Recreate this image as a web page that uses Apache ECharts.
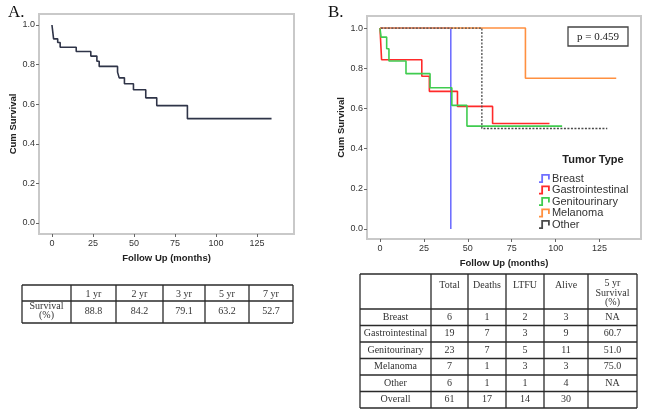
<!DOCTYPE html>
<html><head><meta charset="utf-8">
<script src="https://cdn.jsdelivr.net/npm/echarts@6/dist/echarts.min.js"></script>
<style>html,body{margin:0;padding:0;background:#fff}#c{width:649px;height:418px}</style>
</head><body><div id="c"></div>
<script>
// ---- tick values ----
const xTicks = [0, 25, 50, 75, 100, 125];
const yTicks = [0, 0.2, 0.4, 0.6, 0.8, 1.0];

// ---- Panel A: overall Kaplan-Meier ----
const allTime = [0, 0.5, 1, 3.5, 5, 14.8, 23.7, 27.4, 28.8, 40, 41, 44.2, 49.7, 57.2, 63.9, 82.6, 133.9];
const allSurv = [1, 0.965, 0.93, 0.912, 0.888, 0.866, 0.843, 0.817, 0.791, 0.762, 0.733, 0.703, 0.673, 0.632, 0.593, 0.527, 0.527];

// ---- Panel B: by tumor type ----
const tumorTypes = ['Breast', 'Gastrointestinal', 'Genitourinary', 'Melanoma', 'Other'];
const breastTime = [0, 40.3];
const breastSurv = [1, 0];
const giTime = [0, 0.3, 0.6, 0.9, 23.8, 28.1, 44.1, 64.1, 96.5];
const giSurv = [1, 0.947, 0.895, 0.842, 0.76, 0.685, 0.61, 0.525, 0.525];
const guTime = [0, 0.6, 3.8, 5.1, 14.8, 28.5, 40.9, 49.5, 103.7];
const guSurv = [1, 0.955, 0.897, 0.836, 0.773, 0.703, 0.615, 0.512, 0.512];
const melTime = [0, 82.8, 134.5];
const melSurv = [1, 0.75, 0.75];
const otherTime = [0.5, 58, 129.4];
const otherSurv = [1, 0.5, 0.5];
const pValueText = 'p = 0.459';

// ---- Table A ----
const tableAYears = ['1 yr', '2 yr', '3 yr', '5 yr', '7 yr'];
const tableASurvival = [88.8, 84.2, 79.1, 63.2, 52.7];

// ---- Table B ----
const tableBHeaders = ['Total', 'Deaths', 'LTFU', 'Alive', '5 yr\nSurvival\n(%)'];
const tableBRows = ['Breast', 'Gastrointestinal', 'Genitourinary', 'Melanoma', 'Other', 'Overall'];
const tableBTotal = [6, 19, 23, 7, 6, 61];
const tableBDeaths = [1, 7, 7, 1, 1, 17];
const tableBLTFU = [2, 3, 5, 3, 1, 14];
const tableBAlive = [3, 9, 11, 3, 4, 30];
const tableBFiveYr = ['NA', '60.7', '51.0', '75.0', 'NA', ''];

const colors = ['#6f6fff', '#ff2a2a', '#3fcc4f', '#ff9040', '#4a4a4a'];
const pairs = (t, s) => t.map((v, i) => [v, s[i]]);

const chart = echarts.init(document.getElementById('c'), null, {renderer: 'canvas'});

const sans = 'Liberation Sans';
const serif = 'Liberation Serif';
const frameColor = '#c9c9c9';

function makeX(idx, min, max) {
  return {
    type: 'value', gridIndex: idx, min: min, max: max, position: 'bottom',
    name: 'Follow Up (months)', nameLocation: 'middle', nameGap: 19,
    nameTextStyle: {fontFamily: sans, fontWeight: 'bold', fontSize: 9.5, color: '#222'},
    axisLine: {show: false, onZero: false},
    axisTick: {show: true, length: 3, customValues: xTicks, lineStyle: {color: '#666', width: 1}},
    axisLabel: {customValues: xTicks, fontFamily: sans, fontSize: 9, color: '#333', margin: 5},
    splitLine: {show: false}
  };
}
function makeY(idx, min, max) {
  return {
    type: 'value', gridIndex: idx, min: min, max: max, position: 'left',
    name: 'Cum Survival', nameLocation: 'middle', nameGap: 18,
    nameTextStyle: {fontFamily: sans, fontWeight: 'bold', fontSize: 9.5, color: '#222'},
    axisLine: {show: false, onZero: false},
    axisTick: {show: true, length: 3, customValues: yTicks, lineStyle: {color: '#666', width: 1}},
    axisLabel: {customValues: yTicks, fontFamily: sans, fontSize: 9, color: '#333', margin: 4,
      formatter: v => v.toFixed(1)},
    splitLine: {show: false}
  };
}

function kmSeries(name, t, s, color, gi, extra) {
  return Object.assign({
    name: name, type: 'line', step: 'end', xAxisIndex: gi, yAxisIndex: gi,
    data: pairs(t, s), showSymbol: false, symbol: 'none',
    lineStyle: {color: color, width: 1.6}, itemStyle: {color: color},
    silent: true, animation: false
  }, extra || {});
}

// ---- tables as graphics ----
function buildTable(colX, rowY, cells, lw) {
  const g = [];
  rowY.forEach(y => g.push({type: 'line', shape: {x1: colX[0], y1: y, x2: colX[colX.length - 1], y2: y},
    style: {stroke: '#2a2a2a', lineWidth: lw}}));
  colX.forEach(x => g.push({type: 'line', shape: {x1: x, y1: rowY[0], x2: x, y2: rowY[rowY.length - 1]},
    style: {stroke: '#2a2a2a', lineWidth: lw}}));
  cells.forEach(c => g.push({type: 'text', x: c.x, y: c.y,
    style: {text: c.text, fill: '#333', font: '10px "' + serif + '"', align: 'center',
      verticalAlign: 'middle', lineHeight: c.lh || 11}}));
  return g;
}

const tAcols = [22, 71, 116, 163, 205, 249, 293];
const tArows = [285, 301, 323];
const tAcells = [];
tableAYears.forEach((h, i) => tAcells.push({x: (tAcols[i + 1] + tAcols[i + 2]) / 2, y: 294, text: h}));
tAcells.push({x: (tAcols[0] + tAcols[1]) / 2, y: 311, text: 'Survival\n(%)', lh: 9.5});
tableASurvival.forEach((v, i) => tAcells.push({x: (tAcols[i + 1] + tAcols[i + 2]) / 2, y: 311, text: v.toFixed(1)}));

const tBcols = [360, 431, 468, 506, 544, 588, 637];
const tBrows = [274, 309];
for (let i = 1; i <= tableBRows.length; i++) tBrows.push(309 + 16.5 * i);
const tBcells = [];
tableBHeaders.forEach((h, i) => {
  const multi = h.indexOf('\n') >= 0;
  tBcells.push({x: (tBcols[i + 1] + tBcols[i + 2]) / 2, y: multi ? 293 : 285, text: h, lh: 9.3});
});
const colsB = [tableBTotal, tableBDeaths, tableBLTFU, tableBAlive, tableBFiveYr];
tableBRows.forEach((r, j) => {
  const cy = (tBrows[j + 1] + tBrows[j + 2]) / 2;
  tBcells.push({x: (tBcols[0] + tBcols[1]) / 2, y: cy, text: r});
  colsB.forEach((col, i) => tBcells.push({x: (tBcols[i + 1] + tBcols[i + 2]) / 2, y: cy, text: String(col[j])}));
});

const graphics = [
  {type: 'text', x: 8, y: 4, style: {text: 'A.', font: '17px "' + serif + '"', fill: '#111'}},
  {type: 'text', x: 328, y: 4, style: {text: 'B.', font: '17px "' + serif + '"', fill: '#111'}},
  {type: 'rect', shape: {x: 568, y: 27, width: 60, height: 19},
    style: {fill: '#fff', stroke: '#444', lineWidth: 1.3}},
  {type: 'text', x: 598, y: 37, style: {text: pValueText, font: '11px "' + serif + '"', fill: '#222',
    align: 'center', verticalAlign: 'middle'}},
  {type: 'text', x: 593, y: 160, style: {text: 'Tumor Type', font: 'bold 11px "' + sans + '"', fill: '#222',
    align: 'center', verticalAlign: 'middle'}}
].concat(buildTable(tAcols, tArows, tAcells, 1.3)).concat(buildTable(tBcols, tBrows, tBcells, 1.3));

const stepIcon = 'path://M0,8 L2.5,8 L2.5,0 L12,0 L12,6 L10,6 L10,2 L4.5,2 L4.5,10 L0,10 Z';

const option = {
  animation: false,
  backgroundColor: '#fff',
  grid: [
    {left: 39, top: 14, width: 255, height: 220, show: true, borderColor: frameColor, borderWidth: 2, backgroundColor: 'transparent'},
    {left: 367, top: 16, width: 274, height: 223, show: true, borderColor: frameColor, borderWidth: 2, backgroundColor: 'transparent'}
  ],
  xAxis: [makeX(0, -7.9, 147.6), makeX(1, -7.4, 148.6)],
  yAxis: [makeY(0, -0.0556, 1.0556), makeY(1, -0.05, 1.06)],
  legend: {
    show: true, orient: 'vertical', left: 534, top: 168, itemWidth: 13, itemHeight: 9, itemGap: 0.5,
    icon: stepIcon, data: tumorTypes,
    textStyle: {fontFamily: sans, fontSize: 11, color: '#333', lineHeight: 11, padding: [0, 0, 0, -4]},
    selectedMode: false
  },
  series: [
    kmSeries('Overall', allTime, allSurv, '#2f3448', 0),
    kmSeries(tumorTypes[0], breastTime, breastSurv, colors[0], 1),
    kmSeries(tumorTypes[1], giTime, giSurv, colors[1], 1),
    kmSeries(tumorTypes[2], guTime, guSurv, colors[2], 1),
    kmSeries(tumorTypes[3], melTime, melSurv, colors[3], 1),
    kmSeries(tumorTypes[4], otherTime, otherSurv, colors[4], 1, {lineStyle: {color: colors[4], width: 1.3, type: [2, 1.5]}})
  ],
  graphic: graphics
};
chart.setOption(option);
</script>
</body></html>
